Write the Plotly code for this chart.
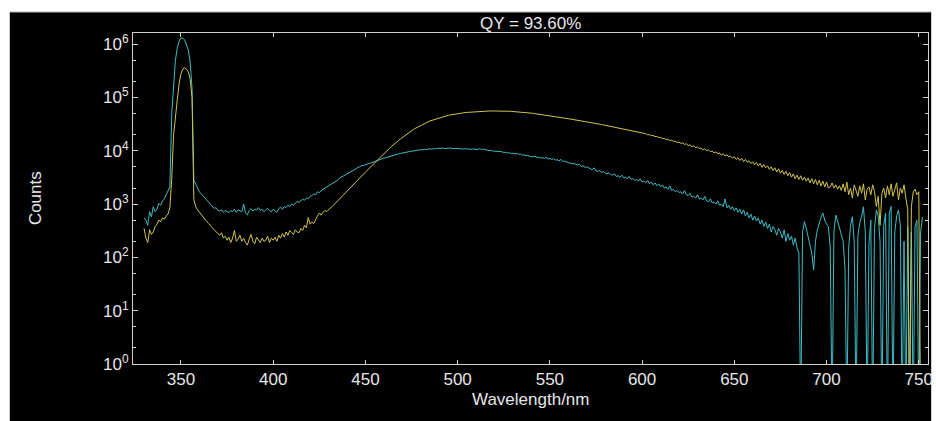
import plotly.graph_objects as go

# Wavelength grid of the spectrometer (1 nm steps)
wavelength_nm = list(range(330, 753))

# Blank / reference spectrum (cyan)
reference_counts = [
    550, 500, 400, 720, 580, 890, 720, 800, 1030, 950,                      # 330
    1150, 1260, 1500, 1830, 2100, 50000, 200000, 500000, 850000, 1150000,   # 340
    1300000, 1300000, 1200000, 1000000, 780000, 450000, 150000, 2800, 2300, 2000,  # 350
    1700, 1550, 1400, 1300, 1200, 1050, 950, 900, 830, 860,                 # 360
    760, 740, 780, 700, 760, 720, 690, 750, 720, 800,                       # 370
    700, 780, 740, 720, 1000, 680, 630, 760, 820, 740,                      # 380
    800, 770, 860, 760, 800, 720, 780, 830, 760, 720,                       # 390
    800, 760, 700, 820, 880, 800, 900, 860, 950, 900,                       # 400
    1000, 960, 1050, 1120, 1080, 1150, 1230, 1180, 1300, 1260,              # 410
    1400, 1450, 1550, 1500, 1700, 1650, 1800, 1900, 2000, 2100,             # 420
    2200, 2300, 2450, 2500, 2700, 2800, 3100, 3200, 3300, 3500,             # 430
    3700, 3900, 4000, 4300, 4400, 4600, 4900, 5000, 5300, 5300,             # 440
    5500, 5700, 5800, 5900, 6100, 6200, 6500, 6600, 6900, 7000,             # 450
    7300, 7400, 7600, 7900, 8000, 8100, 8400, 8500, 8800, 8900,             # 460
    9100, 9300, 9200, 9500, 9700, 9800, 10000, 10100, 10200, 10300,         # 470
    10500, 10400, 10700, 10600, 10800, 10900, 10700, 11000, 10900, 11200,   # 480
    11000, 11100, 11300, 11000, 11200, 11100, 11300, 11000, 11200, 11100,   # 490
    11000, 10900, 11100, 10800, 11000, 10700, 10900, 10600, 10800, 10700,   # 500
    10900, 10600, 11000, 10500, 10800, 10400, 10300, 10100, 10200, 9900,    # 510
    9800, 9700, 9900, 9500, 9600, 9300, 9400, 9100, 9200, 8900,             # 520
    9000, 8800, 8900, 8600, 8700, 8300, 8400, 8100, 8200, 7900,             # 530
    7800, 7700, 7900, 7500, 7600, 7300, 7400, 7200, 7500, 7000,             # 540
    7200, 6900, 7100, 6700, 6800, 6500, 6900, 6300, 6400, 6100,             # 550
    6000, 5900, 5700, 5800, 5500, 5400, 5600, 5100, 5200, 4900,             # 560
    5000, 4700, 4600, 4400, 4800, 4200, 4100, 4300, 3900, 4100,             # 570
    3800, 3700, 3900, 3600, 3500, 3700, 3300, 3400, 3200, 3500,             # 580
    3100, 3200, 3000, 3300, 2900, 3000, 2800, 2900, 2700, 3000,             # 590
    2600, 2700, 2500, 2800, 2400, 2600, 2300, 2500, 2200, 2400,             # 600
    2100, 2300, 2000, 2100, 1900, 2200, 1800, 1900, 1700, 1800,             # 610
    1650, 1700, 1550, 1800, 1500, 1450, 1600, 1350, 1400, 1300,             # 620
    1500, 1250, 1300, 1200, 1400, 1150, 1100, 1250, 1050, 1100,             # 630
    1000, 1150, 950, 1000, 900, 1250, 850, 950, 800, 900,                   # 640
    750, 850, 700, 800, 650, 780, 600, 700, 550, 650,                       # 650
    500, 600, 480, 550, 420, 500, 380, 460, 350, 420,                       # 660
    300, 380, 330, 260, 350, 300, 230, 330, 200, 280,                       # 670
    210, 250, 170, 230, 150, 120, 0.1, 300, 470, 350,                       # 680
    250, 190, 120, 58, 200, 330, 450, 560, 680, 500,                        # 690
    420, 380, 150, 0.1, 300, 620, 480, 350, 290, 200,                       # 700
    60, 0.1, 150, 400, 580, 200, 0.1, 250, 450, 580,                        # 710
    890, 300, 0.1, 180, 500, 0.1, 350, 780, 600, 200,                       # 720
    0.1, 400, 680, 0.1, 680, 900, 0.1, 300, 600, 780,                       # 730
    400, 0.1, 200, 0.1, 380, 0.1, 300, 0.1, 380, 500,                       # 740
    0.1, 300, 570,                                                          # 750
]

# Sample spectrum (yellow)
sample_counts = [
    350, 230, 190, 330, 270, 300, 380, 420, 500, 470,                       # 330
    550, 520, 600, 650, 850, 3000, 20000, 50000, 90000, 180000,             # 340
    280000, 340000, 360000, 340000, 300000, 220000, 100000, 1200, 900, 780, # 350
    700, 620, 560, 520, 470, 430, 400, 360, 330, 310,                       # 360
    280, 260, 290, 230, 250, 210, 240, 190, 230, 320,                       # 370
    200, 220, 260, 200, 230, 190, 170, 220, 270, 200,                       # 380
    180, 240, 210, 190, 230, 200, 210, 250, 190, 230,                       # 390
    210, 240, 200, 260, 230, 280, 240, 300, 260, 320,                       # 400
    290, 270, 330, 300, 290, 350, 320, 400, 360, 560,                       # 410
    420, 460, 430, 520, 600, 680, 620, 700, 760, 720,                       # 420
    800, 850, 900, 980, 1050, 1150, 1250, 1350, 1450, 1600,                 # 430
    1740, 1890, 2050, 2230, 2420, 2630, 2860, 3100, 3370, 3660,             # 440
    3980, 4320, 4690, 5100, 5540, 6020, 6510, 7030, 7600, 8220,             # 450
    8900, 9580, 10300, 11100, 11950, 12900, 13750, 14650, 15650, 16700,     # 460
    17800, 18900, 20050, 21300, 22600, 24000, 25100, 26300, 27500, 28800,   # 470
    30200, 31300, 32500, 33700, 35000, 36300, 37300, 38400, 39400, 40500,   # 480
    41700, 42600, 43500, 44400, 45300, 46300, 47000, 47800, 48600, 49400,   # 490
    50200, 50700, 51100, 51600, 52100, 52500, 52900, 53300, 53600, 54000,   # 500
    54300, 54600, 54800, 55100, 55300, 55600, 55700, 55800, 55900, 56000,   # 510
    56000, 56000, 55950, 55880, 55780, 55660, 55510, 55330, 55130, 54900,   # 520
    54650, 54380, 54070, 53750, 53390, 53010, 52620, 52200, 51750, 51280,   # 530
    50800, 50300, 49780, 49230, 48680, 48110, 47520, 46910, 46300, 45670,   # 540
    45000, 44500, 44000, 43500, 43000, 42500, 42000, 41500, 41000, 40500,   # 550
    40000, 39500, 39000, 38600, 38100, 37600, 37200, 36700, 36300, 35800,   # 560
    35300, 34700, 34200, 33700, 33100, 32600, 32100, 31600, 31100, 30600,   # 570
    30100, 29700, 29100, 28800, 28200, 27900, 27300, 27000, 26300, 26100,   # 580
    25400, 25200, 24500, 24300, 23700, 23400, 22800, 22600, 21900, 21800,   # 590
    21300, 20800, 20900, 20000, 20100, 19300, 19400, 18500, 18600, 17800,   # 600
    17800, 17000, 17100, 16300, 16500, 15600, 15800, 15000, 15200, 14300,   # 610
    14600, 13800, 14000, 13200, 13500, 12600, 12900, 12000, 12400, 11500,   # 620
    11800, 11000, 11300, 10400, 10900, 10000, 10400, 9600, 9900, 9100,      # 630
    9500, 8800, 9100, 8300, 8800, 8000, 8400, 7700, 7900, 7300,             # 640
    7700, 6900, 7400, 6600, 7200, 6300, 6900, 6100, 6500, 5800,             # 650
    6200, 5500, 6000, 5200, 5800, 4900, 5500, 4800, 5200, 4500,             # 660
    5000, 4300, 4800, 4000, 4600, 3800, 4300, 3600, 4100, 3400,             # 670
    3900, 3200, 3700, 3000, 3500, 2900, 3400, 2800, 3200, 2700,             # 680
    3100, 2500, 3000, 2400, 2900, 2300, 2800, 2200, 2700, 2100,             # 690
    2600, 2000, 2100, 2500, 2000, 2300, 1900, 2200, 1800, 2400,             # 700
    1700, 2600, 1500, 2000, 1300, 2300, 1800, 1400, 2200, 1600,             # 710
    2400, 1200, 1900, 2100, 1500, 2300, 1700, 900, 1400, 400,               # 720
    1600, 2000, 1300, 2200, 1500, 2400, 1400, 1800, 2500, 1200,             # 730
    2000, 1600, 2300, 1300, 800, 0.1, 900, 1700, 1900, 1500,                # 740
    1700, 0.1, 0.1,                                                         # 750
]

x_tick_values = [350, 400, 450, 500, 550, 600, 650, 700, 750]
y_tick_values = [1, 10, 100, 1000, 10000, 100000, 1000000]
y_tick_labels = ["10<sup>0</sup>", "10<sup>1</sup>", "10<sup>2</sup>", "10<sup>3</sup>",
                 "10<sup>4</sup>", "10<sup>5</sup>", "10<sup>6</sup>"]

FONT = "Liberation Sans, Arial, sans-serif"
TEXT = "#e6e6e6"
AXIS = "#cfcfcf"
FS = 17

fig = go.Figure()
fig.add_trace(go.Scatter(x=wavelength_nm, y=reference_counts, mode="lines",
                         line=dict(color="#3dbcc6", width=1), showlegend=False))
fig.add_trace(go.Scatter(x=wavelength_nm, y=sample_counts, mode="lines",
                         line=dict(color="#d0c450", width=1), showlegend=False))

fig.update_layout(
    width=936, height=421, autosize=False,
    margin=dict(l=133, r=3, t=33, b=57, pad=0),
    paper_bgcolor="white", plot_bgcolor="black",
    font=dict(family=FONT, size=FS, color=TEXT),
    shapes=[
        dict(type="rect", xref="paper", yref="paper", x0=-0.155, x1=1.004,
             y0=-0.175, y1=1.0634, fillcolor="black", line=dict(width=0), layer="below"),
        dict(type="line", xref="paper", yref="paper", x0=-0.155, x1=1.004,
             y0=1.0634, y1=1.0634, line=dict(color="#aeb6be", width=1), layer="below"),
    ],
    annotations=[
        dict(text="QY = 93.60%", xref="paper", yref="paper", x=0.5, y=1.03,
             xanchor="center", yanchor="middle", showarrow=False,
             font=dict(size=FS, color=TEXT, family=FONT)),
        dict(text="Wavelength/nm", xref="paper", yref="paper", x=0.5, y=-0.106,
             xanchor="center", yanchor="middle", showarrow=False,
             font=dict(size=FS, color=TEXT, family=FONT)),
        dict(text="Counts", xref="paper", yref="paper", x=-0.1225, y=0.5,
             xanchor="center", yanchor="middle", textangle=-90, showarrow=False,
             font=dict(size=FS, color=TEXT, family=FONT)),
    ],
)

fig.update_xaxes(
    range=[324, 755], tickvals=x_tick_values,
    showline=True, linecolor=AXIS, linewidth=1, mirror="ticks",
    ticks="inside", ticklen=4, tickcolor=AXIS, tickwidth=1,
    showgrid=False, zeroline=False, ticklabeloverflow="allow",
    tickfont=dict(size=FS, color=TEXT, family=FONT),
)
fig.update_yaxes(
    type="log", range=[0, 6.21], tickvals=y_tick_values, ticktext=y_tick_labels,
    showline=True, linecolor=AXIS, linewidth=1, mirror="ticks",
    ticks="inside", ticklen=5, tickcolor=AXIS, tickwidth=1,
    minor=dict(ticks="inside", ticklen=3, tickcolor=AXIS, showgrid=False),
    showgrid=False, zeroline=False,
    tickfont=dict(size=FS, color=TEXT, family=FONT),
)

fig.write_html("out.html")
